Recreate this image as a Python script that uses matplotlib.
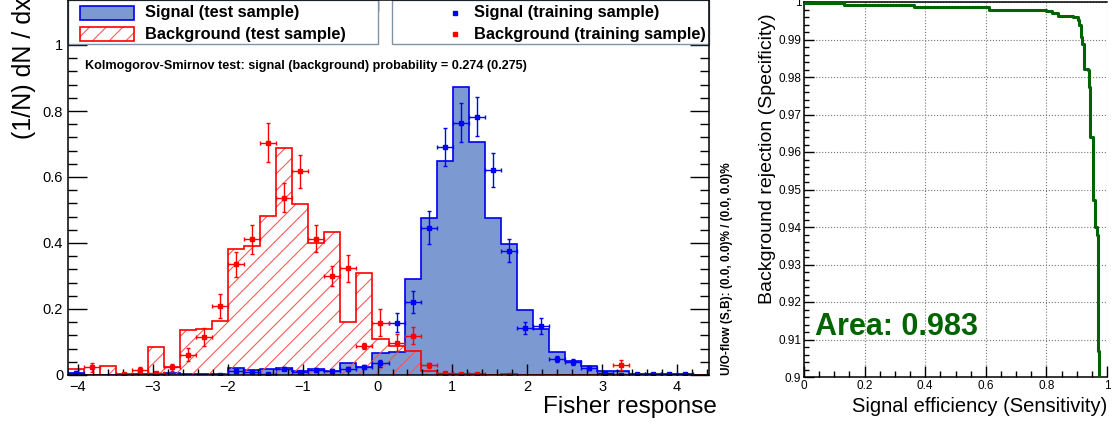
import matplotlib
matplotlib.use('Agg')
import matplotlib.pyplot as plt
import numpy as np
from matplotlib.patches import Rectangle
from matplotlib.ticker import MultipleLocator, FuncFormatter

plt.rcParams['font.family'] = ['Liberation Sans', 'DejaVu Sans']
plt.rcParams['hatch.linewidth'] = 0.75
plt.rcParams['axes.linewidth'] = 1.1

# Fisher response, 40 bins between x_lo and x_hi
x_lo, x_hi, n_bins = -4.134, 4.427, 40

sig_test = [0.007, 0.0, 0.0, 0.0, 0.002, 0.002, 0.007, 0.002, 0.002, 0.004,
            0.020, 0.015, 0.018, 0.020, 0.011, 0.018, 0.013, 0.035, 0.023, 0.066,
            0.071, 0.291, 0.477, 0.650, 0.872, 0.705, 0.477, 0.396, 0.197, 0.138,
            0.069, 0.042, 0.027, 0.012, 0.012, 0.003, 0.003, 0.002, 0.002, 0.0]
bkg_test = [0.018, 0.0, 0.027, 0.003, 0.003, 0.086, 0.023, 0.136, 0.138, 0.165,
            0.381, 0.391, 0.482, 0.688, 0.518, 0.401, 0.433, 0.160, 0.308, 0.108,
            0.088, 0.074, 0.013, 0.004, 0.003, 0.003, 0.0, 0.002, 0.0, 0.0,
            0.0, 0.0, 0.0, 0.0, 0.0, 0.0, 0.0, 0.0, 0.0, 0.0]

nan = np.nan
sig_train = [0.007, nan, nan, 0.001, nan, 0.002, nan, nan, nan, 0.0,
             0.012, 0.009, 0.004, 0.019, 0.009, 0.015, 0.013, 0.018, 0.023, 0.035,
             0.159, 0.222, 0.446, 0.690, 0.765, 0.783, 0.622, 0.377, 0.142, 0.148,
             0.048, 0.040, 0.020, 0.006, 0.001, 0.002, 0.002, 0.002, 0.002, nan]
sig_train_err = [0.004, 0, 0, 0.001, 0, 0.002, 0, 0, 0, 0.001,
                 0.004, 0.004, 0.003, 0.005, 0.004, 0.005, 0.005, 0.005, 0.006, 0.010,
                 0.030, 0.033, 0.050, 0.057, 0.059, 0.058, 0.052, 0.036, 0.019, 0.024,
                 0.010, 0.009, 0.006, 0.003, 0.001, 0.001, 0.001, 0.001, 0.001, 0]
bkg_train = [nan, 0.023, nan, 0.002, 0.015, 0.005, 0.023, 0.061, 0.115, 0.209,
             0.335, 0.411, 0.704, 0.537, 0.617, 0.413, 0.301, 0.323, 0.088, 0.159,
             0.098, 0.119, 0.029, 0.006, 0.003, 0.003, nan, 0.0, nan, nan,
             nan, nan, nan, nan, 0.030, nan, nan, nan, nan, nan]
bkg_train_err = [0, 0.013, 0, 0.003, 0.010, 0.004, 0.010, 0.020, 0.028, 0.035,
                 0.037, 0.043, 0.060, 0.044, 0.050, 0.041, 0.030, 0.040, 0.010, 0.040,
                 0.025, 0.025, 0.007, 0.004, 0.002, 0.002, 0, 0.001, 0, 0,
                 0, 0, 0, 0, 0.014, 0, 0, 0, 0, 0]

ks_sig, ks_bkg = 0.274, 0.275

# ROC curve (step points)
roc_eff = [0.0, 0.132, 0.363, 0.612, 0.700, 0.800, 0.820, 0.837, 0.887, 0.903,
           0.909, 0.914, 0.918, 0.923, 0.936, 0.942, 0.945, 0.953, 0.955, 0.962,
           0.967, 0.969, 0.973]
roc_rej = [0.9998, 0.9993, 0.9988, 0.9980, 0.9978, 0.9976, 0.9972, 0.9963, 0.9960, 0.9951,
           0.9940, 0.9907, 0.9889, 0.9822, 0.9818, 0.9773, 0.9640, 0.9631, 0.9471, 0.9400,
           0.9378, 0.9070, 0.9000]
roc_area = 0.983

SIG_FILL = '#7d99d1'
SIG_LINE = '#0000ee'
SIG_MARK = '#0000ff'
BKG_LINE = '#ff0000'
BKG_HATCH = '#ff5050'
GREEN = '#006400'
LEG_EDGE = '#8093a8'

W, H = 1113, 425
fig = plt.figure(figsize=(W / 100, H / 100), dpi=100)


def px_axes(x0, y0, x1, y1):
    return fig.add_axes([x0 / W, 1 - y1 / H, (x1 - x0) / W, (y1 - y0) / H])


def tick_fmt(v, _):
    return f'{v:g}'.replace('-', '\u2212')


# ---------------- left: classifier output ----------------
AX0, AX1, AY0, AY1 = 68, 709, 0, 375
ax = px_axes(AX0, AY0, AX1, AY1)


def ax_x(px):
    return (px - AX0) / (AX1 - AX0)


def ax_y(py):
    return (AY1 - py) / (AY1 - AY0)


edges = np.linspace(x_lo, x_hi, n_bins + 1)
centers = 0.5 * (edges[:-1] + edges[1:])
half = 0.5 * (edges[1] - edges[0])

ax.stairs(sig_test, edges, fill=True, color=SIG_FILL, lw=0, zorder=1)
ax.stairs(sig_test, edges, color=SIG_LINE, lw=1.2, zorder=1.2)
ax.stairs(bkg_test, edges, fill=True, facecolor='none', edgecolor=BKG_HATCH,
          hatch='//', lw=0, zorder=1.3)
ax.stairs(bkg_test, edges, color=BKG_LINE, lw=1.2, zorder=1.4)

ax.errorbar(centers, sig_train, yerr=sig_train_err, xerr=half, fmt='s', ms=3.2,
            color=SIG_MARK, elinewidth=1, capsize=1.5, zorder=1.6)
ax.errorbar(centers, bkg_train, yerr=bkg_train_err, xerr=half, fmt='s', ms=3.2,
            color=BKG_LINE, elinewidth=1, capsize=1.5, zorder=1.7)

ax.set_xlim(x_lo, x_hi)
ax.set_ylim(0, 375 / 330)
ax.xaxis.set_major_locator(MultipleLocator(1))
ax.xaxis.set_minor_locator(MultipleLocator(0.2))
ax.yaxis.set_major_locator(MultipleLocator(0.2))
ax.yaxis.set_minor_locator(MultipleLocator(0.04))
ax.xaxis.set_major_formatter(FuncFormatter(tick_fmt))
ax.yaxis.set_major_formatter(FuncFormatter(tick_fmt))
ax.tick_params(which='both', direction='in', top=True, right=True, labelsize=10.5, width=1)
ax.tick_params(axis='y', which='major', length=13.5)
ax.tick_params(axis='y', which='minor', length=6.8)
ax.tick_params(axis='x', which='major', length=8)
ax.tick_params(axis='x', which='minor', length=4)

ax.set_xlabel('Fisher response', fontsize=17.5, loc='right')
ax.xaxis.set_label_coords(1 + 8 / 641, -(407 - 375) / 375)
ax.xaxis.label.set_va('center')
ax.set_ylabel('(1/N) dN / dx', fontsize=18, loc='top')
ax.yaxis.set_label_coords(-(68 - 24) / 641, 1.008)
ax.yaxis.label.set_va('center')

# legend boxes
ly = ax_y(44)
for x0, x1 in [(68, 378), (392, 709)]:
    ax.add_patch(Rectangle((ax_x(x0), ly), ax_x(x1) - ax_x(x0), 1 - ly, transform=ax.transAxes,
                           facecolor='white', edgecolor=LEG_EDGE, lw=1, zorder=2.2, clip_on=False))

ax.add_patch(Rectangle((ax_x(80), ax_y(20)), ax_x(134) - ax_x(80), ax_y(6) - ax_y(20),
                       transform=ax.transAxes, facecolor=SIG_FILL, edgecolor=SIG_LINE,
                       lw=1.2, zorder=2.3))
ax.add_patch(Rectangle((ax_x(80), ax_y(41)), ax_x(134) - ax_x(80), ax_y(27) - ax_y(41),
                       transform=ax.transAxes, facecolor='white', edgecolor=BKG_HATCH,
                       hatch='//', lw=0, zorder=2.3))
ax.add_patch(Rectangle((ax_x(80), ax_y(41)), ax_x(134) - ax_x(80), ax_y(27) - ax_y(41),
                       transform=ax.transAxes, fill=False, edgecolor=BKG_LINE,
                       lw=1.2, zorder=2.35))
leg_kw = dict(transform=ax.transAxes, fontsize=11.8, fontweight='bold', va='center', zorder=4)
ax.text(ax_x(145), ax_y(13), 'Signal (test sample)', **leg_kw)
ax.text(ax_x(145), ax_y(34), 'Background (test sample)', **leg_kw)
ax.plot([ax_x(455)], [ax_y(13)], 's', ms=3, color=SIG_MARK, transform=ax.transAxes, zorder=4)
ax.plot([ax_x(455)], [ax_y(34)], 's', ms=3, color=BKG_LINE, transform=ax.transAxes, zorder=4)
ax.text(ax_x(474), ax_y(13), 'Signal (training sample)', **leg_kw)
ax.text(ax_x(474), ax_y(34), 'Background (training sample)', **leg_kw)

ax.text(ax_x(85), ax_y(66),
        f'Kolmogorov-Smirnov test: signal (background) probability = {ks_sig:.3f} ({ks_bkg:.3f})',
        transform=ax.transAxes, fontsize=9.1, fontweight='bold', va='center', zorder=4)

fig.text(727 / W, 1 - 375 / H, 'U/O-flow (S,B): (0.0, 0.0)% / (0.0, 0.0)%',
         rotation=90, ha='center', va='bottom', fontsize=8.5, fontweight='bold')

# ---------------- right: ROC curve ----------------
ax2 = px_axes(804, 2, 1107, 377)
ax2.plot(roc_eff, roc_rej, drawstyle='steps-post', color=GREEN, lw=2.2, zorder=3)
ax2.set_xlim(0, 1)
ax2.set_ylim(0.9, 1)
ax2.xaxis.set_major_locator(MultipleLocator(0.2))
ax2.xaxis.set_minor_locator(MultipleLocator(0.05))
ax2.yaxis.set_major_locator(MultipleLocator(0.01))
ax2.yaxis.set_minor_locator(MultipleLocator(0.002))
ax2.xaxis.set_major_formatter(FuncFormatter(tick_fmt))
ax2.yaxis.set_major_formatter(FuncFormatter(lambda v, _: f'{round(v, 3):g}'))
ax2.grid(True, which='major', ls=':', color='#777777', lw=0.8)
ax2.spines['right'].set_visible(False)
ax2.tick_params(which='both', direction='in', labelsize=8.5, width=1, pad=2)
ax2.tick_params(axis='y', which='major', length=7)
ax2.tick_params(axis='y', which='minor', length=3.5)
ax2.tick_params(axis='x', which='major', length=8)
ax2.tick_params(axis='x', which='minor', length=4)

ax2.set_xlabel('Signal efficiency (Sensitivity)', fontsize=14.5, loc='right')
ax2.xaxis.set_label_coords(1.0, -(407 - 377) / 375)
ax2.xaxis.label.set_va('center')
ax2.set_ylabel('Background rejection (Specificity)', fontsize=14, loc='top')
ax2.yaxis.set_label_coords(-(804 - 768) / 303, (377 - 13) / 375)
ax2.yaxis.label.set_va('center')

ax2.text(0.036, 0.9133, f'Area: {roc_area:.3f}', color=GREEN, fontsize=22,
         fontweight='bold', va='center', ha='left')

fig.savefig('out.png', dpi=100)
